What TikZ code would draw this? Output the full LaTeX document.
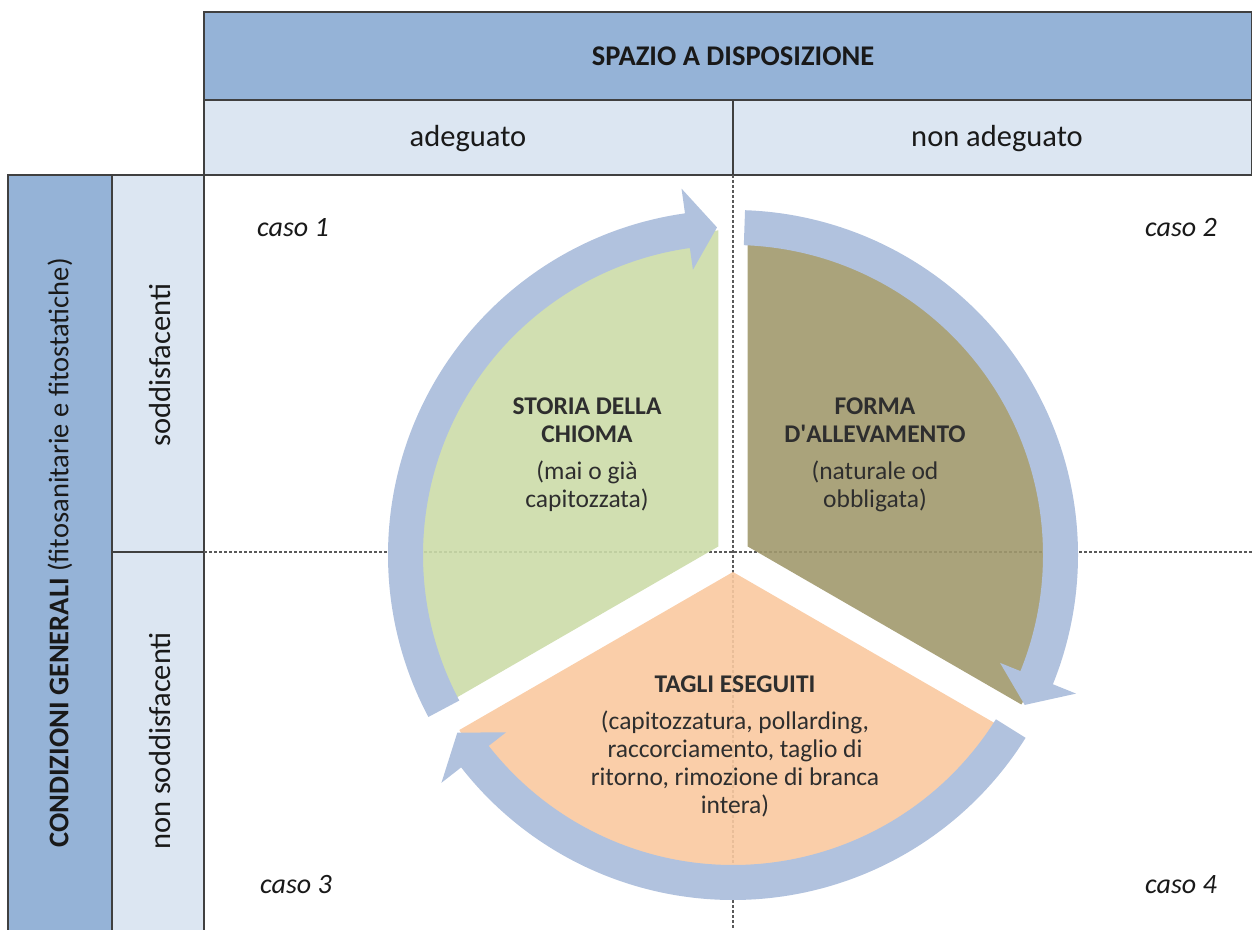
\documentclass[tikz,border=0pt]{standalone}
\usepackage{fontspec}
\setmainfont{Carlito}
\usepackage{tikz}

\definecolor{headdark}{HTML}{95B3D7}
\definecolor{headlight}{HTML}{DCE6F2}
\definecolor{cellline}{HTML}{404040}
\definecolor{gridgray}{HTML}{595959}
\definecolor{ringblue}{HTML}{B1C2DE}
\definecolor{chiomagreen}{HTML}{CCDCA9}
\definecolor{formaolive}{HTML}{A1996D}
\definecolor{tagliorange}{HTML}{F9C9A0}

\tikzset{
  headcell/.style={fill=headdark, draw=cellline, line width=1.2pt},
  subcell/.style={fill=headlight, draw=cellline, line width=1.2pt},
  gridline/.style={draw=gridgray, line width=1.4pt, dash pattern=on 3pt off 2pt},
  ringarrow/.style={fill=ringblue},
  slice/.style={fill opacity=0.9},
  tabtext/.style={text=black!90, font=\fontsize{30.5}{36}\selectfont},
  tabbold/.style={text=black!90, font=\fontsize{28.5}{34}\selectfont\bfseries},
  casetext/.style={text=black!90, font=\fontsize{28}{32}\selectfont\itshape},
  slicetext/.style={align=center, text=black!82, font=\fontsize{25.5}{28}\selectfont},
}

\begin{document}
\begin{tikzpicture}[x=1pt, y=1pt]
  \useasboundingbox (0, 0) rectangle (1252, 929);

  % table heads
  \draw[headcell] (204, 917) rectangle (1252, 829);
  \draw[subcell] (204, 829) rectangle (733, 754);
  \draw[subcell] (733, 829) rectangle (1252, 754);
  \draw[headcell] (8, 754) rectangle (112, -2);
  \draw[subcell] (112, 754) rectangle (204, 377);
  \draw[subcell] (112, 377) rectangle (204, -2);

  % quadrant lines
  \draw[gridline] (733, 754) -- (733, 0);
  \draw[gridline] (204, 377) -- (1252, 377);

  \begin{scope}[shift={(733, 374)}]
    % the three slices, pulled apart a little
    \fill[slice, fill=chiomagreen] (150:17pt) -- ++(90:316pt)
      arc[start angle=90, end angle=210, radius=316pt] -- cycle;
    \fill[slice, fill=formaolive] (30:17pt) -- ++(-30:316pt)
      arc[start angle=-30, end angle=90, radius=316pt] -- cycle;
    \fill[slice, fill=tagliorange] (270:17pt) -- ++(210:316pt)
      arc[start angle=210, end angle=330, radius=316pt] -- cycle;

    % circular arrows, clockwise
    \foreach \t in {88, 208, 328} {
      \fill[ringarrow] (\t:345pt)
        arc[start angle=\t, end angle=\t-110, radius=345pt]
        -- (\t-110:370pt) -- (\t-115.2:328pt) -- (\t-110:288pt)
        -- (\t-110:310pt)
        arc[start angle=\t-110, end angle=\t, radius=310pt] -- cycle;
    }
  \end{scope}

  % labels
  \node (spazio) at (733, 873) [tabbold] {SPAZIO A DISPOSIZIONE};
  \node (adeg) at (468, 790) [tabtext] {adeguato};
  \node (nonadeg) at (997, 790) [tabtext] {non adeguato};
  \node (cond) at (60, 376) [tabtext, font=\fontsize{28.5}{34}\selectfont, rotate=90]
    {\textbf{CONDIZIONI GENERALI} (fitosanitarie e fitostatiche)};
  \node (sodd) at (160, 564) [tabtext, rotate=90] {soddisfacenti};
  \node (nonsodd) at (160, 188) [tabtext, rotate=90] {non soddisfacenti};

  \node (caso1) at (293, 701) [casetext] {caso 1};
  \node (caso2) at (1181, 701) [casetext] {caso 2};
  \node (caso3) at (296, 44) [casetext] {caso 3};
  \node (caso4) at (1181, 44) [casetext] {caso 4};

  \node (storia) at (587, 474) [slicetext]
    {\textbf{STORIA DELLA}\\\textbf{CHIOMA}\\[9pt](mai o già\\capitozzata)};
  \node (forma) at (875, 474) [slicetext]
    {\textbf{FORMA}\\\textbf{D\textquotesingle ALLEVAMENTO}\\[9pt](naturale od\\obbligata)};
  \node (tagli) at (735, 183) [slicetext]
    {\textbf{TAGLI ESEGUITI}\\[9pt](capitozzatura, pollarding,\\raccorciamento, taglio di\\ritorno, rimozione di branca\\intera)};
\end{tikzpicture}
\end{document}
